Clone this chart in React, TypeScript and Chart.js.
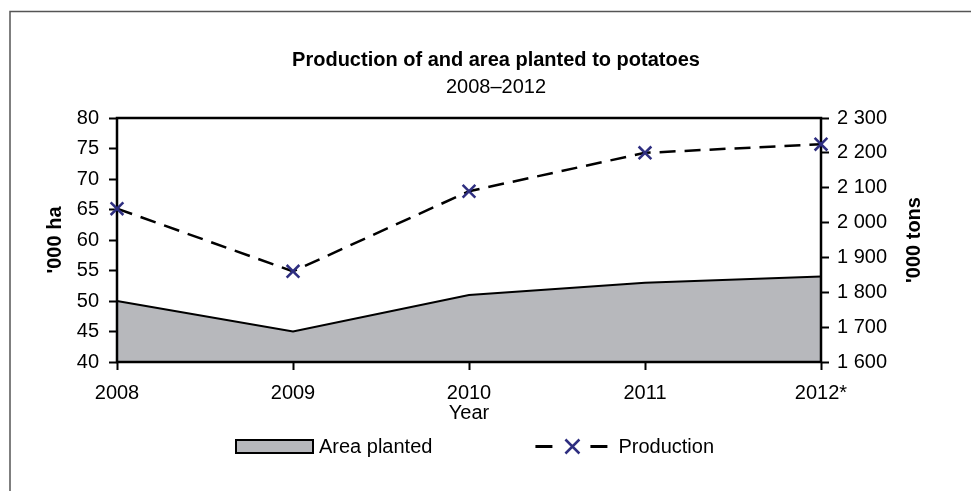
import React, { useEffect, useRef } from 'react';
import { Chart, registerables } from 'chart.js';

Chart.register(...registerables);

// ---- data ----
const years = ['2008', '2009', '2010', '2011', '2012*'];
const areaPlanted = [50, 45, 51, 53, 54]; // '000 ha (left axis)
const production = [2040, 1860, 2090, 2200, 2225]; // '000 tons (right axis)
const leftMin = 40;
const leftMax = 80;
const leftStep = 5;
const rightMin = 1600;
const rightMax = 2300;
const rightStep = 100;
const titleText = 'Production of and area planted to potatoes';
const subtitleText = '2008–2012';
const xTitle = 'Year';
const leftTitle = "'000 ha";
const rightTitle = "'000 tons";
const seriesNames = ['Area planted', 'Production'];

const FONT = '"Liberation Sans", Arial, sans-serif';
const AREA_FILL = '#b7b8bc';
const MARKER = '#2e2e80';

const fmtThousands = (v: number) => {
  if (v >= 1000) {
    return Math.floor(v / 1000) + ' ' + String(v % 1000).padStart(3, '0');
  }
  return String(v);
};

const decor = {
  id: 'decor',
  afterDatasetDraw(chart: any, args: any) {
    if (args.index !== 0) return;
    const { ctx, chartArea: a } = chart;
    ctx.save();
    ctx.strokeStyle = '#000';
    ctx.lineWidth = 2.5;
    ctx.strokeRect(a.left, a.top, a.right - a.left, a.bottom - a.top);
    ctx.restore();
  },
  afterDraw(chart: any) {
    const { ctx, chartArea: a } = chart;
    ctx.save();
    // outer frame (top and left edges)
    ctx.strokeStyle = '#555';
    ctx.lineWidth = 1.5;
    ctx.beginPath();
    ctx.moveTo(10, chart.height);
    ctx.lineTo(10, 11.5);
    ctx.lineTo(chart.width, 11.5);
    ctx.stroke();

    // right axis title, reading bottom to top
    ctx.save();
    ctx.font = `bold 20px ${FONT}`;
    ctx.fillStyle = '#000';
    ctx.textAlign = 'center';
    ctx.textBaseline = 'middle';
    ctx.translate(a.right + 93, (a.top + a.bottom) / 2);
    ctx.rotate(-Math.PI / 2);
    ctx.fillText(rightTitle, 0, 0);
    ctx.restore();

    // legend
    const ds = chart.data.datasets;
    const y = a.bottom + 84.5;
    let x = a.left + 119;
    ctx.font = `20px ${FONT}`;
    ctx.textAlign = 'left';
    ctx.textBaseline = 'middle';
    // area item
    ctx.fillStyle = ds[0].backgroundColor;
    ctx.fillRect(x, y - 6.5, 77, 13);
    ctx.strokeStyle = '#000';
    ctx.lineWidth = 2;
    ctx.strokeRect(x, y - 6.5, 77, 13);
    ctx.fillStyle = '#000';
    ctx.fillText(ds[0].label, x + 83, y + 1);
    x = x + 83 + ctx.measureText(ds[0].label).width + 103;
    // production item
    ctx.strokeStyle = '#000';
    ctx.lineWidth = 3;
    ctx.beginPath();
    ctx.moveTo(x, y);
    ctx.lineTo(x + 17, y);
    ctx.moveTo(x + 55, y);
    ctx.lineTo(x + 72, y);
    ctx.stroke();
    const cx = x + 37;
    const r = 7;
    ctx.strokeStyle = MARKER;
    ctx.lineWidth = 2.5;
    ctx.beginPath();
    ctx.moveTo(cx - r, y - r);
    ctx.lineTo(cx + r, y + r);
    ctx.moveTo(cx + r, y - r);
    ctx.lineTo(cx - r, y + r);
    ctx.stroke();
    ctx.fillStyle = '#000';
    ctx.fillText(ds[1].label, x + 83, y + 1);
    ctx.restore();
  },
};

export default function App() {
  const ref = useRef<HTMLCanvasElement>(null);

  useEffect(() => {
    document.body.style.margin = '0';
    Chart.defaults.font.family = FONT;
    Chart.defaults.color = '#000';
    const chart = new Chart(ref.current as HTMLCanvasElement, {
      type: 'line',
      data: {
        labels: years,
        datasets: [
          {
            label: seriesNames[0],
            data: areaPlanted,
            yAxisID: 'y',
            fill: 'start',
            backgroundColor: AREA_FILL,
            borderColor: '#000',
            borderWidth: 2,
            pointRadius: 0,
            tension: 0,
            order: 2,
          },
          {
            label: seriesNames[1],
            data: production,
            yAxisID: 'y1',
            fill: false,
            borderColor: '#000',
            borderWidth: 2.5,
            borderDash: [16, 9],
            pointStyle: 'crossRot',
            pointRadius: 9,
            pointBorderColor: MARKER,
            pointBackgroundColor: MARKER,
            pointBorderWidth: 2.5,
            tension: 0,
            clip: false,
            order: 1,
          },
        ],
      },
      options: {
        responsive: false,
        animation: false,
        devicePixelRatio: 1,
        layout: { padding: { left: 21, right: 0, top: 0, bottom: 66 } },
        plugins: {
          legend: { display: false },
          tooltip: { enabled: false },
          title: {
            display: true,
            text: titleText,
            color: '#000',
            font: { size: 20, weight: 'bold' },
            padding: { top: 48, bottom: 0 },
          },
          subtitle: {
            display: true,
            text: subtitleText,
            color: '#000',
            font: { size: 20, weight: 'normal' },
            padding: { top: 3, bottom: 19 },
          },
        },
        scales: {
          x: {
            type: 'category',
            offset: false,
            grid: {
              display: true,
              drawOnChartArea: false,
              drawTicks: true,
              tickLength: 8,
              tickWidth: 2,
              tickColor: '#000',
            },
            border: { display: false },
            ticks: { font: { size: 20 }, color: '#000', padding: 11, maxRotation: 0, autoSkip: false },
            title: {
              display: true,
              text: xTitle,
              color: '#000',
              font: { size: 20 },
              padding: { top: 0, bottom: 0 },
            },
            afterFit(s: any) {
              s.height = 63;
            },
          },
          y: {
            position: 'left',
            min: leftMin,
            max: leftMax,
            grid: {
              drawOnChartArea: false,
              drawTicks: true,
              tickLength: 8,
              tickWidth: 2,
              tickColor: '#000',
            },
            border: { display: false },
            ticks: { stepSize: leftStep, font: { size: 20 }, color: '#000', padding: 10 },
            title: {
              display: true,
              text: leftTitle,
              color: '#000',
              font: { size: 20, weight: 'bold' },
              padding: { top: 22, bottom: 0 },
            },
            afterFit(s: any) {
              s.width = 96;
            },
          },
          y1: {
            position: 'right',
            min: rightMin,
            max: rightMax,
            grid: {
              drawOnChartArea: false,
              drawTicks: true,
              tickLength: 8,
              tickWidth: 2,
              tickColor: '#000',
            },
            border: { display: false },
            ticks: {
              stepSize: rightStep,
              font: { size: 20 },
              color: '#000',
              padding: 8,
              callback: (v: any) => fmtThousands(Number(v)),
            },
            afterFit(s: any) {
              s.width = 150;
            },
          },
        },
      },
      plugins: [decor],
    } as any);
    return () => chart.destroy();
  }, []);

  return (
    <div style={{ width: 971, height: 491 }}>
      <canvas ref={ref} width={971} height={491} style={{ display: 'block' }} />
    </div>
  );
}
